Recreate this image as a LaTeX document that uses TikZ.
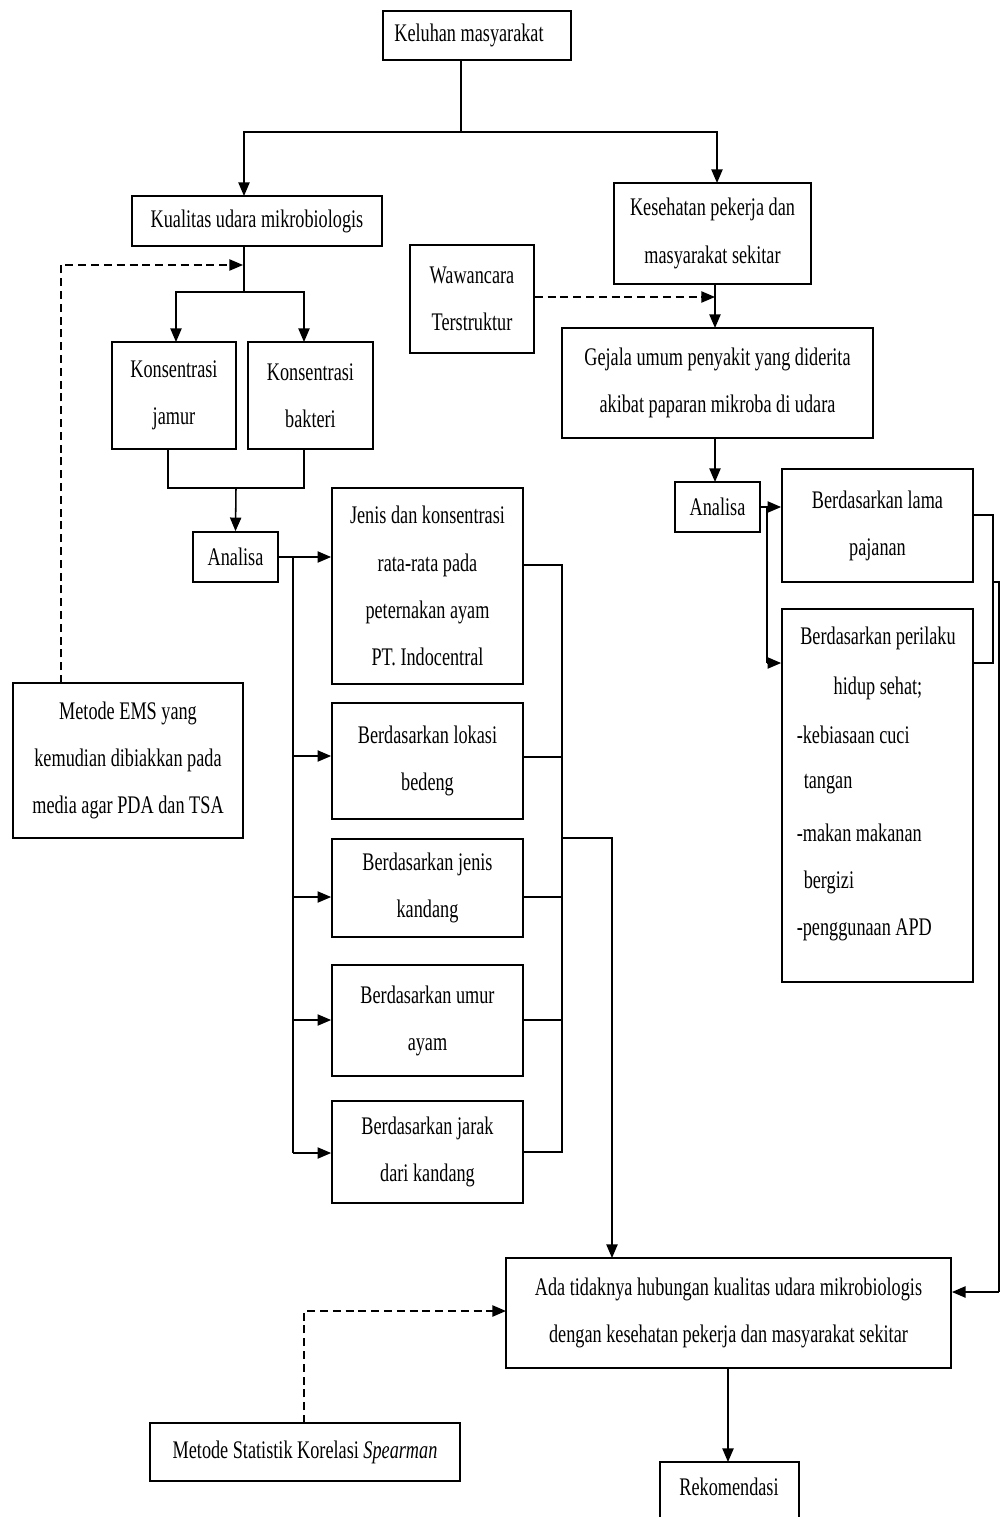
\documentclass[tikz,border=0pt]{standalone}
\usepackage{fontspec}
\setmainfont{Liberation Serif}[FakeStretch=0.72]
\usetikzlibrary{arrows.meta}
\begin{document}
\begin{tikzpicture}[x=0.025cm,y=-0.025cm,line width=1.1pt,
  box/.style={draw,line width=1.2pt,inner sep=0pt,align=center,font=\fontsize{18}{33.5}\selectfont},
  txt/.style={inner sep=0pt,font=\fontsize{18}{33.5}\selectfont},
  arr/.style={-{Triangle[length=0.34cm,width=0.28cm]}},
  dsh/.style={dash pattern=on 0.2cm off 0.12cm}]
\useasboundingbox (0,0) rectangle (1000,1517);
\clip (0,0) rectangle (1000,1517);
% boxes
\node[box,minimum width=4.7cm,minimum height=1.225cm] (kel) at (477,35.5) {Keluhan masyarakat\hspace*{0.4cm}};
\node[box,minimum width=6.25cm,minimum height=1.25cm] (kua) at (257,221) {Kualitas udara mikrobiologis};
\node[box,minimum width=4.925cm,minimum height=2.525cm] (kes) at (712.5,233.5) {Kesehatan pekerja dan\\masyarakat sekitar};
\node[box,minimum width=3.1cm,minimum height=2.7cm] (waw) at (472,299) {Wawancara\\Terstruktur};
\node[box,minimum width=3.1cm,minimum height=2.675cm] (jam) at (174,395.5) {Konsentrasi\\jamur};
\node[box,minimum width=3.125cm,minimum height=2.675cm] (bak) at (310.5,395.5) {Konsentrasi\\bakteri};
\node[box,minimum width=2.125cm,minimum height=1.25cm] (an1) at (235.5,557) {Analisa};
\node[box,minimum width=4.775cm,minimum height=4.9cm] (jen) at (427.5,586) {Jenis dan konsentrasi\\rata-rata pada\\peternakan ayam\\PT. Indocentral};
\node[box,minimum width=4.775cm,minimum height=2.9cm] (lok) at (427.5,761) {Berdasarkan lokasi\\bedeng};
\node[box,minimum width=4.775cm,minimum height=2.45cm] (kdg) at (427.5,888) {Berdasarkan jenis\\kandang};
\node[box,minimum width=4.775cm,minimum height=2.775cm] (umr) at (427.5,1020.5) {Berdasarkan umur\\ayam};
\node[box,minimum width=4.775cm,minimum height=2.55cm] (jrk) at (427.5,1152) {Berdasarkan jarak\\dari kandang};
\node[box,minimum width=7.775cm,minimum height=2.75cm] (gej) at (717.5,383) {Gejala umum penyakit yang diderita\\akibat paparan mikroba di udara};
\node[box,minimum width=2.125cm,minimum height=1.25cm] (an2) at (717.5,507) {Analisa};
\node[box,minimum width=4.775cm,minimum height=2.825cm] (lam) at (877.5,525.5) {Berdasarkan lama\\pajanan};
\node[box,minimum width=4.775cm,minimum height=9.325cm] (per) at (877.5,795.5) {};
\node[txt] (p1) at (878,638) {Berdasarkan perilaku};
\node[txt] (p2) at (878,688) {hidup sehat;};
\node[txt,anchor=west] (p3) at (796,735) {-kebiasaan cuci};
\node[txt,anchor=west] (p4) at (803,784) {tangan};
\node[txt,anchor=west] (p5) at (796,833) {-makan makanan};
\node[txt,anchor=west] (p6) at (803,882) {bergizi};
\node[txt,anchor=west] (p7) at (796,930) {-penggunaan APD};
\node[box,minimum width=5.75cm,minimum height=3.875cm] (ems) at (128,760.5) {Metode EMS yang\\kemudian dibiakkan pada\\media agar PDA dan TSA};
\node[box,minimum width=11.125cm,minimum height=2.75cm] (ada) at (728.5,1313) {Ada tidaknya hubungan kualitas udara mikrobiologis\\dengan kesehatan pekerja dan masyarakat sekitar};
\node[box,minimum width=3.475cm,minimum height=1.95cm] (rek) at (729.5,1501) {};
\node[txt] (rekt) at (729,1487) {Rekomendasi};
\node[box,minimum width=7.75cm,minimum height=1.45cm] (spe) at (305,1452) {Metode Statistik Korelasi \textit{Spearman}};
% coordinates
\coordinate (kelb) at (461,60);
\coordinate (j1) at (461,132);
\coordinate (kuaIn) at (244,196);
\coordinate (kesIn) at (717,183);
\coordinate (kuaOut) at (244,246);
\coordinate (j2) at (244,292);
\coordinate (jamIn) at (176,342);
\coordinate (bakIn) at (304,342);
\coordinate (jamOut) at (168,449);
\coordinate (bakOut) at (304,449);
\coordinate (j3) at (236,488);
\coordinate (t0) at (293,557);
\coordinate (t1) at (293,756);
\coordinate (t2) at (293,897);
\coordinate (t3) at (293,1020);
\coordinate (t4) at (293,1153);
\coordinate (r0) at (562,565);
\coordinate (r1) at (562,757);
\coordinate (r2) at (562,897);
\coordinate (r3) at (562,1020);
\coordinate (r4) at (562,1152);
\coordinate (r5) at (562,838);
\coordinate (adaIn) at (612,1258);
\coordinate (kesOut) at (715,284);
\coordinate (gejIn) at (715,328);
\coordinate (gejOut) at (715,438);
\coordinate (an2In) at (715,482);
\coordinate (wj) at (715,297);
\coordinate (b0) at (767,507);
\coordinate (b1) at (767,663);
\coordinate (c0) at (993,515);
\coordinate (c1) at (993,663);
\coordinate (c2) at (993,582);
\coordinate (c3) at (999,582);
\coordinate (c4) at (999,1292);
\coordinate (emsT) at (61,683);
\coordinate (emsC) at (61,265);
\coordinate (kuaJ) at (243,265);
\coordinate (speT) at (304,1423);
\coordinate (speC) at (304,1311);
\coordinate (adaL) at (506,1311);
\coordinate (adaB) at (728,1368);
\coordinate (rekIn) at (728,1462);
% connectors
\draw (kelb) -- (j1);
\draw[arr] (j1) -| (kuaIn);
\draw[arr] (j1) -| (kesIn);
\draw (kuaOut) -- (j2);
\draw[arr] (j2) -| (jamIn);
\draw[arr] (j2) -| (bakIn);
\draw (jamOut) |- (j3) -| (bakOut);
\draw[arr] (j3) -- (an1.north);
\draw[arr] (an1.east) -- (an1.east -| jen.west);
\draw (t0) -- (t4);
\draw[arr] (t1) -- (t1 -| lok.west);
\draw[arr] (t2) -- (t2 -| kdg.west);
\draw[arr] (t3) -- (t3 -| umr.west);
\draw[arr] (t4) -- (t4 -| jrk.west);
\draw (r0 -| jen.east) -- (r0) -- (r4) -- (r4 -| jrk.east);
\draw (r1 -| lok.east) -- (r1);
\draw (r2 -| kdg.east) -- (r2);
\draw (r3 -| umr.east) -- (r3);
\draw[arr] (r5) -| (adaIn);
\draw[arr,dsh] (waw.east |- wj) -- (wj);
\draw[arr] (kesOut) -- (gejIn);
\draw[arr] (gejOut) -- (an2In);
\draw[arr] (an2.east |- b0) -- (b0 -| lam.west);
\draw (an2.east |- b0) -- (b0) -- (b1);
\draw[arr] (b1) -- (b1 -| per.west);
\draw (c0 -| lam.east) -- (c0) -- (c1) -- (c1 -| per.east);
\draw (c2) -- (c3) -- (c4);
\draw[arr] (c4) -- (c4 -| ada.east);
\draw[arr,dsh] (emsT) -- (emsC) -- (kuaJ);
\draw[arr,dsh] (speT) -- (speC) -- (adaL);
\draw[arr] (adaB) -- (rekIn);
\end{tikzpicture}
\end{document}
